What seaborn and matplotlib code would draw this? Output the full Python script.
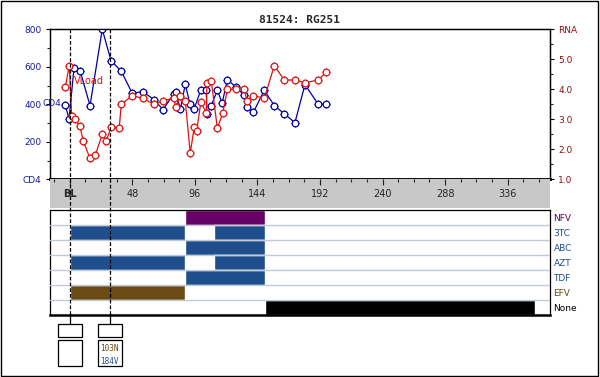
import matplotlib
matplotlib.use("Agg")
import matplotlib.pyplot as plt
import seaborn as sns
import numpy as np
from matplotlib.patches import Rectangle
from matplotlib.lines import Line2D
from matplotlib.transforms import blended_transform_factory

# ---------------- data ----------------
title = "81524: RG251"
weeks_cd4 = [-3.4, -0.5, 3.3, 8.1, 15.6, 25, 31.7, 39.6, 48, 56, 64.7, 71.6, 80, 81.5,
             84.9, 88.7, 92.3, 95.6, 100.5, 104.8, 105.3, 108.6, 113.3, 117, 121, 127.8,
             134, 136, 140.9, 149.3, 157, 164.6, 172.8, 180.5, 190.7, 196.9]
cd4 = [398, 321, 592, 576, 393, 800, 633, 576, 459, 468, 425, 372, 457, 464, 373, 507,
       400, 377, 475, 475, 347, 393, 475, 407, 532, 490, 448, 384, 357, 475, 393, 350,
       302, 505, 400, 402]
weeks_rna = [-3.4, -0.3, 1.5, 3.8, 7.9, 10.4, 15.6, 19.8, 25, 28.1, 31.9, 38, 39.6, 48,
             56, 64.7, 71.6, 79.8, 81.5, 84.9, 88.7, 92.5, 95.6, 97.4, 100.7, 104.8,
             105.3, 108.6, 113.3, 117.4, 121, 127.8, 134, 136, 140.9, 149.3, 157, 164.6,
             172.8, 180.5, 190.7, 196.9]
rna = [4.07, 4.79, 3.12, 3.02, 2.77, 2.27, 1.70, 1.82, 2.5, 2.28, 2.75, 2.72, 3.5, 3.79,
       3.70, 3.5, 3.62, 3.70, 3.40, 3.79, 3.61, 1.87, 2.75, 2.61, 3.59, 3.2, 4.2, 4.29,
       2.7, 3.2, 4.0, 4.0, 4.0, 3.61, 3.79, 3.7, 4.79, 4.31, 4.31, 4.22, 4.31, 4.58]

cd4_ticks = [0, 200, 400, 600, 800]
cd4_labels = ["CD4", "200", "400", "600", "800"]
rna_ticks = [1, 2, 3, 4, 5, 6]
rna_labels = ["1.0", "2.0", "3.0", "4.0", "5.0", "RNA"]
week_ticks = [0, 48, 96, 144, 192, 240, 288, 336]
week_labels = ["BL", "48", "96", "144", "192", "240", "288", "336"]

drugs = ["NFV", "3TC", "ABC", "AZT", "TDF", "EFV", "None"]
drug_periods = [
    [(88.5, 150)],
    [(0, 88.5), (111, 150)],
    [(88.5, 150)],
    [(0, 88.5), (111, 150)],
    [(88.5, 150)],
    [(0, 88.5)],
    [(150, 357)],
]
drug_colors = ["#660066", "#1f4e8c", "#1f4e8c", "#1f4e8c", "#1f4e8c", "#6b4a14", "#000000"]

geno_weeks = [0, 31]
geno_muts = [[], [("103N", "#6b4a14"), ("184V", "#1f4e8c")]]

# ---------------- style ----------------
sns.set_style("white")
plt.rcParams["font.family"] = ["DejaVu Sans"]

W, H = 600, 377
fig = plt.figure(figsize=(W / 100, H / 100), dpi=100)


def fr(x0, y0, x1, y1):
    return [x0 / W, 1 - y1 / H, (x1 - x0) / W, (y1 - y0) / H]


XLIM = (-15.1, 368.5)
CD4C = "#0000a0"
RNAC = "#dd1111"
LBLBLUE = "#1a1a9a"
LBLRED = "#8b1010"

# ---------------- main plot ----------------
ax = fig.add_axes(fr(50, 29.3, 550, 179.3))
ax.set_xlim(*XLIM)
ax.set_ylim(0, 800)
ax2 = ax.twinx()
ax2.set_ylim(1, 6)
ax.set_xticks([])

for a, w, v, c in [(ax, weeks_cd4, cd4, CD4C), (ax2, weeks_rna, rna, RNAC)]:
    a.plot(w, v, linestyle="none", marker="+", ms=6.0, mew=0.8, color=c, zorder=3)
    sns.lineplot(x=w, y=v, ax=a, sort=False, estimator=None, color=c, lw=0.9,
                 marker="o", markersize=4.8, markerfacecolor="white",
                 markeredgecolor=c, markeredgewidth=0.9, zorder=4)

ax.set_yticks(cd4_ticks, cd4_labels)
ax.set_yticks(np.arange(100, 800, 200), minor=True)
ax.tick_params(axis="y", which="major", length=3, width=0.8, pad=3, labelsize=6.5,
               labelcolor=LBLBLUE, color="black", left=True, direction="out")
ax.tick_params(axis="y", which="minor", length=2, width=0.8, left=True, direction="out")
ax2.set_yticks(rna_ticks, rna_labels)
ax2.set_yticks(np.arange(1.5, 6, 1.0), minor=True)
ax2.tick_params(axis="y", which="major", length=3, width=0.8, pad=3, labelsize=6.5,
                labelcolor=LBLRED, color="black", right=True, direction="out")
ax2.tick_params(axis="y", which="minor", length=2, width=0.8, right=True, direction="out")
for a in (ax, ax2):
    for s in a.spines.values():
        s.set_color("black")
        s.set_linewidth(0.9)
    a.spines["bottom"].set_linewidth(1.8)
    a.set_xlabel("")
    a.set_ylabel("")

fig.text(42 / W, 1 - 104 / H, "CD4", color=LBLBLUE, fontsize=6.5, ha="left", va="center")
fig.text(74 / W, 1 - 80.5 / H, "VLoad", color=RNAC, fontsize=7, ha="left", va="center")
fig.text(0.499, 1 - 20 / H, title, ha="center", va="center", fontsize=8,
         fontweight="bold", family="DejaVu Sans Mono")

# ---------------- week band ----------------
band = fig.add_axes(fr(50, 179.3, 550, 207.7))
band.set_facecolor("#c8c8c8")
band.set_xlim(*XLIM)
band.set_ylim(0, 1)
band.set_yticks([])
for s in band.spines.values():
    s.set_visible(False)
band.set_xticks(week_ticks, week_labels)
band.set_xticks([t for t in range(-12, 369, 12) if t % 48], minor=True)
band.tick_params(axis="x", which="both", direction="in", top=True, bottom=False,
                 labeltop=False, labelbottom=True, color="#222222", width=0.8)
band.tick_params(axis="x", which="major", length=4.5, pad=-13.5, labelsize=7)
band.tick_params(axis="x", which="minor", length=2.5)
band.get_xticklabels()[0].set_fontweight("bold")

# ---------------- drug panel ----------------
panel = fig.add_axes(fr(50, 210, 550, 315))
panel.set_xlim(*XLIM)
panel.set_ylim(len(drugs), 0)
for i, (periods, c) in enumerate(zip(drug_periods, drug_colors)):
    panel.broken_barh([(a, b - a) for a, b in periods], (i, 1), facecolors=c, zorder=2)
for i in range(1, len(drugs)):
    panel.axhline(i, color="#c2cad6", lw=1.0, zorder=3)
panel.set_xticks([])
panel.yaxis.tick_right()
panel.set_yticks(np.arange(len(drugs)) + 0.5, drugs)
panel.tick_params(axis="y", length=0, pad=2.5, labelsize=6.5)
for lab, c in zip(panel.get_yticklabels(), drug_colors):
    lab.set_color(c)
for s in panel.spines.values():
    s.set_color("black")
    s.set_linewidth(0.9)
panel.spines["bottom"].set_linewidth(1.8)

# ---------------- genotype markers ----------------
trans = blended_transform_factory(ax.transData, fig.transFigure)
bw = 24 / 1.3035
for wk, muts in zip(geno_weeks, geno_muts):
    fig.add_artist(Line2D([wk, wk], [1 - 29.3 / H, 1 - 315 / H], transform=trans,
                          color="black", lw=0.9, linestyle=(0, (3, 1.6)), zorder=5))
    fig.add_artist(Line2D([wk, wk], [1 - 315 / H, 1 - 324 / H], transform=trans,
                          color="black", lw=0.9, zorder=5))
    fig.add_artist(Rectangle((wk - bw / 2, 1 - 337.3 / H), bw, 13.3 / H, transform=trans,
                             fill=False, ec="black", lw=0.9))
    fig.add_artist(Rectangle((wk - bw / 2, 1 - 366 / H), bw, 25.7 / H, transform=trans,
                             fill=False, ec="black", lw=0.9))
    for j, (m, c) in enumerate(muts):
        fig.text(wk - 7.9, 1 - (348.3 + 12.7 * j) / H, m, transform=trans, color=c,
                 fontsize=5.5, family="DejaVu Sans Mono", ha="left", va="center")

# figure border
fig.add_artist(Rectangle((0.5 / W, 1.5 / H), 597 / W, 375 / H, transform=fig.transFigure,
                         fill=False, ec="black", lw=1.0))

fig.savefig("out.png", dpi=100)
